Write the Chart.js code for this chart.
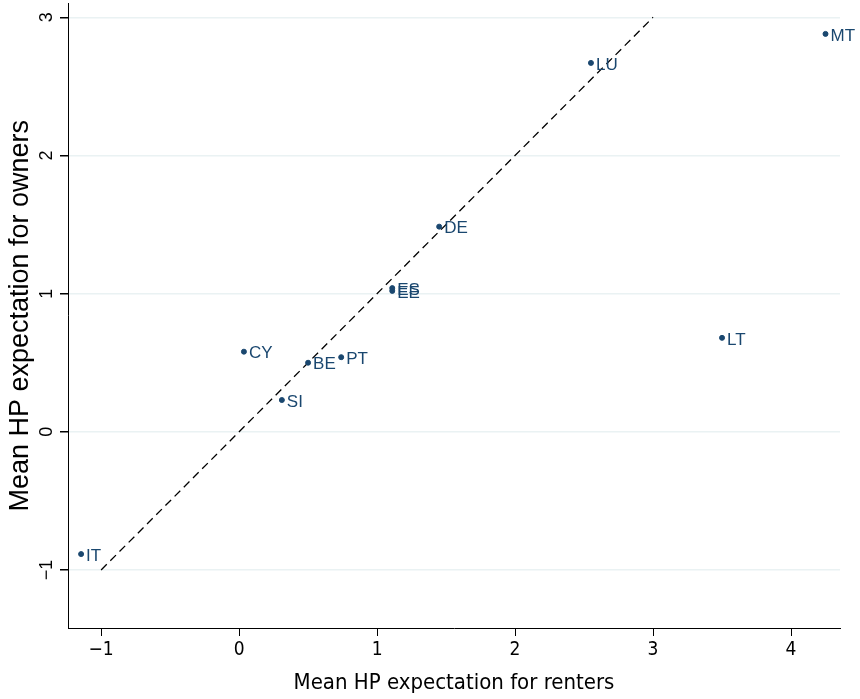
<!DOCTYPE html>
<html>
<head>
<meta charset="utf-8">
<script src="https://cdn.jsdelivr.net/npm/chart.js@4.4.1/dist/chart.umd.min.js"></script>
<style>
    body { margin: 0; background: #fff; }
    #wrap { width: 860px; height: 699px; }
</style>
</head>
<body>
<div id="wrap"><canvas id="hpChart" width="860" height="699"></canvas></div>
<script>
// Data
const countries = ['IT', 'CY', 'SI', 'BE', 'PT', 'ES', 'EE', 'DE', 'LU', 'MT', 'LT'];
const renters   = [-1.145, 0.035, 0.31, 0.50, 0.74, 1.11, 1.11, 1.45, 2.55, 4.25, 3.50];
const owners    = [-0.885, 0.58, 0.23, 0.50, 0.54, 1.04, 1.02, 1.485, 2.67, 2.88, 0.68];

// 45 degree reference line
const diagX = [-1, 3];
const diagY = [-1, 3];

const xTickVals = [-1, 0, 1, 2, 3, 4];
const xTickLabels = ['\u22121', '0', '1', '2', '3', '4'];
const yTickVals = [-1, 0, 1, 2, 3];
const yTickLabels = ['\u22121', '0', '1', '2', '3'];

const NAVY = '#1a476f';

// Draw the country codes next to each marker
const pointLabels = {
    id: 'pointLabels',
    afterDatasetsDraw(chart) {
        const ctx = chart.ctx;
        const xs = chart.scales.x;
        const ys = chart.scales.y;
        ctx.save();
        ctx.fillStyle = NAVY;
        ctx.font = '17px "Liberation Sans", Arial, sans-serif';
        ctx.textAlign = 'left';
        ctx.textBaseline = 'middle';
        countries.forEach((c, i) => {
            const px = xs.getPixelForValue(renters[i]);
            const py = ys.getPixelForValue(owners[i]);
            ctx.fillText(c, px + 5, py + 2);
        });
        ctx.restore();
    }
};

function init() {
    const ctx = document.getElementById('hpChart').getContext('2d');
    new Chart(ctx, {
        type: 'scatter',
        data: {
            datasets: [
                {
                    label: 'countries',
                    data: countries.map((c, i) => ({ x: renters[i], y: owners[i] })),
                    backgroundColor: NAVY,
                    borderColor: NAVY,
                    pointRadius: 2.5,
                    pointHoverRadius: 2.5
                },
                {
                    type: 'line',
                    label: '45 degree',
                    data: diagX.map((v, i) => ({ x: v, y: diagY[i] })),
                    borderColor: '#000',
                    borderWidth: 1.3,
                    borderDash: [8, 5],
                    pointRadius: 0,
                    fill: false
                }
            ]
        },
        options: {
            responsive: false,
            animation: false,
            layout: { padding: { top: 0, right: 20, left: 0, bottom: 0 } },
            plugins: {
                legend: { display: false },
                tooltip: { enabled: false }
            },
            scales: {
                x: {
                    type: 'linear',
                    min: -1.24,
                    max: 4.355,
                    afterBuildTicks: (scale) => { scale.ticks = xTickVals.map(v => ({ value: v })); },
                    afterFit: (scale) => { scale.height = 71; },
                    grid: { color: 'rgba(0,0,0,0)', tickColor: '#000', tickLength: 8, drawOnChartArea: false },
                    border: { color: '#000', width: 1 },
                    ticks: {
                        color: '#000',
                        padding: 3,
                        maxRotation: 0,
                        font: { family: '"Liberation Sans Narrow", "DejaVu Sans Condensed", sans-serif', size: 19 },
                        callback: (v) => xTickLabels[xTickVals.indexOf(v)]
                    },
                    title: {
                        display: true,
                        text: 'Mean HP expectation for renters',
                        color: '#000',
                        font: { family: '"Liberation Sans Narrow", "DejaVu Sans Condensed", sans-serif', size: 22 },
                        padding: { top: 0, bottom: 3 }
                    }
                },
                y: {
                    type: 'linear',
                    min: -1.42,
                    max: 3.10,
                    afterBuildTicks: (scale) => { scale.ticks = yTickVals.map(v => ({ value: v })); },
                    afterFit: (scale) => {
                        scale.width = 68;
                        scale.paddingTop = 0;
                        scale.paddingBottom = 0;
                    },
                    grid: { color: '#eaf2f3', lineWidth: 1.5, tickColor: '#000', tickLength: 8 },
                    border: { color: '#000', width: 1 },
                    ticks: {
                        color: '#000',
                        padding: 3,
                        minRotation: 90,
                        maxRotation: 90,
                        crossAlign: 'center',
                        font: { family: '"Liberation Sans", Arial, sans-serif', size: 18 },
                        callback: (v) => yTickLabels[yTickVals.indexOf(v)]
                    },
                    title: {
                        display: true,
                        text: 'Mean HP expectation for owners',
                        color: '#000',
                        font: { family: '"Liberation Sans", Arial, sans-serif', size: 27 },
                        padding: { top: 4, bottom: 0 }
                    }
                }
            }
        },
        plugins: [pointLabels]
    });
}

document.addEventListener('DOMContentLoaded', init);
</script>
</body>
</html>
